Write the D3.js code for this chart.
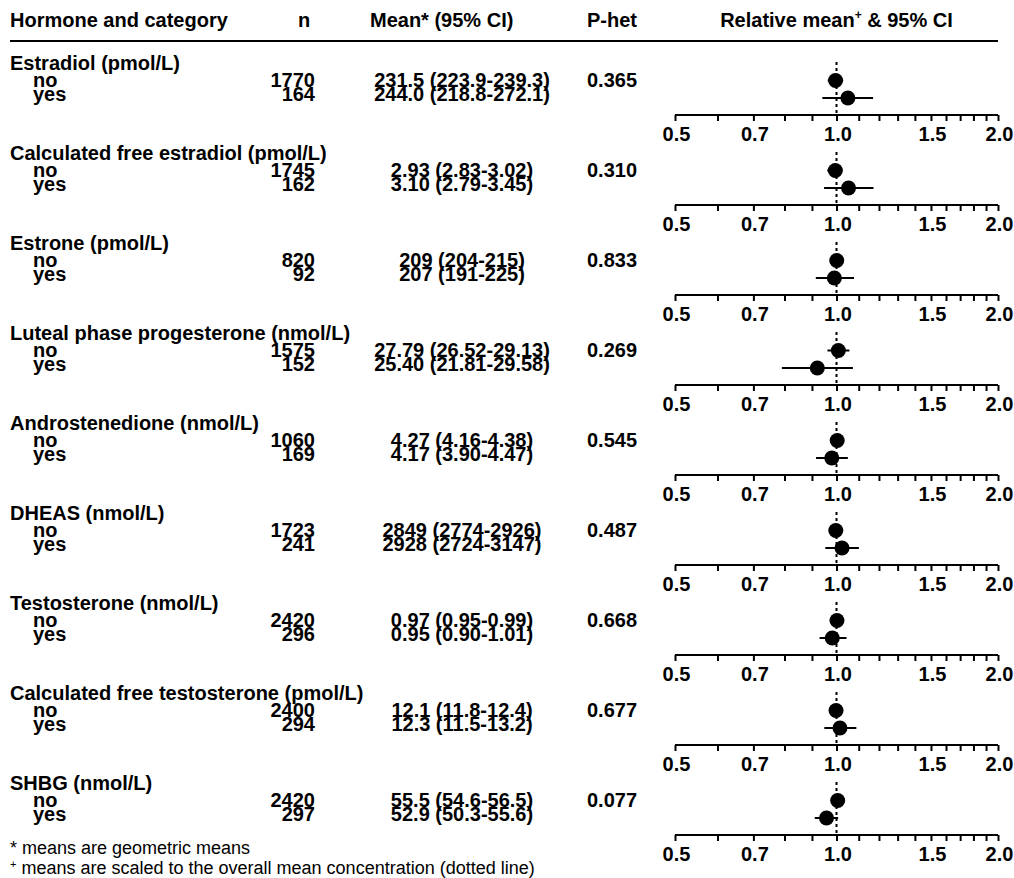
<!DOCTYPE html>
<html>
<head>
<meta charset="utf-8">
<script src="https://cdn.jsdelivr.net/npm/d3@7"></script>
<style>
  html, body { margin: 0; padding: 0; background: #fff; }
  svg { display: block; }
  text { font-family: "Liberation Sans", Arial, Helvetica, sans-serif; fill: #000; }
</style>
</head>
<body>
<svg id="chart" width="1014" height="878"></svg>
<script>
// ---------------- data ----------------
const hormones = [
  "Estradiol (pmol/L)",
  "Calculated free estradiol (pmol/L)",
  "Estrone (pmol/L)",
  "Luteal phase progesterone (nmol/L)",
  "Androstenedione (nmol/L)",
  "DHEAS (nmol/L)",
  "Testosterone (nmol/L)",
  "Calculated free testosterone (pmol/L)",
  "SHBG (nmol/L)"
];
const categories = ["no", "yes"];
const nNo  = [1770, 1745, 820, 1575, 1060, 1723, 2420, 2400, 2420];
const nYes = [164, 162, 92, 152, 169, 241, 296, 294, 297];
const meanNo  = ["231.5", "2.93", "209", "27.79", "4.27", "2849", "0.97", "12.1", "55.5"];
const ciNo    = ["(223.9-239.3)", "(2.83-3.02)", "(204-215)", "(26.52-29.13)", "(4.16-4.38)", "(2774-2926)", "(0.95-0.99)", "(11.8-12.4)", "(54.6-56.5)"];
const meanYes = ["244.0", "3.10", "207", "25.40", "4.17", "2928", "0.95", "12.3", "52.9"];
const ciYes   = ["(218.8-272.1)", "(2.79-3.45)", "(191-225)", "(21.81-29.58)", "(3.90-4.47)", "(2724-3147)", "(0.90-1.01)", "(11.5-13.2)", "(50.3-55.6)"];
const pHet = ["0.365", "0.310", "0.833", "0.269", "0.545", "0.487", "0.668", "0.677", "0.077"];
// relative means (scaled to overall mean) with 95% CI
const relNo    = [0.996, 0.995, 1.001, 1.008, 1.003, 0.997, 1.002, 0.998, 1.005];
const relNoLo  = [0.963, 0.961, 0.977, 0.962, 0.977, 0.970, 0.982, 0.973, 0.989];
const relNoHi  = [1.029, 1.026, 1.030, 1.057, 1.029, 1.024, 1.023, 1.023, 1.023];
const relYes   = [1.050, 1.053, 0.991, 0.921, 0.980, 1.024, 0.982, 1.015, 0.958];
const relYesLo = [0.941, 0.948, 0.915, 0.791, 0.916, 0.953, 0.930, 0.949, 0.911];
const relYesHi = [1.170, 1.172, 1.078, 1.073, 1.050, 1.101, 1.044, 1.089, 1.007];
const tickValues = [0.5,0.6,0.7,0.8,0.9,1.0,1.1,1.2,1.3,1.4,1.5,1.6,1.7,1.8,1.9,2.0];
const tickLabels = [0.5, 0.7, 1.0, 1.5, 2.0];
const headers = ["Hormone and category", "n", "Mean* (95% CI)", "P-het", "Relative mean", "& 95% CI"];
const footnotes = ["means are geometric means", "means are scaled to the overall mean concentration (dotted line)"];

// ---------------- layout ----------------
const FS = 20;
const panelStep = 90;
const top0 = 62;
const svg = d3.select("#chart");
const x = d3.scaleLog().domain([0.5, 2.0]).range([675, 998]);

const colX = { label: 10, indent: 33, n: 315, meanC: 462, p: 587 };

// header
const hg = svg.append("g").attr("font-weight", "bold").attr("font-size", FS);
hg.append("text").attr("x", colX.label).attr("y", 27).text(headers[0]);
hg.append("text").attr("x", 304).attr("y", 27).attr("text-anchor", "middle").text(headers[1]);
hg.append("text").attr("x", 370).attr("y", 27).text(headers[2]);
hg.append("text").attr("x", colX.p).attr("y", 27).text(headers[3]);
const rel = hg.append("text").attr("x", x(1)).attr("y", 27).attr("text-anchor", "middle");
rel.append("tspan").text(headers[4]);
rel.append("tspan").attr("font-size", 12).attr("dy", -8).text("+");
rel.append("tspan").attr("dy", 8).text(" " + headers[5]);
svg.append("line").attr("x1", 10).attr("x2", 998).attr("y1", 41).attr("y2", 41)
  .attr("stroke", "#000").attr("stroke-width", 2);

// panels
hormones.forEach((h, i) => {
  const y0 = top0 + panelStep * i;
  const g = svg.append("g").attr("font-weight", "bold").attr("font-size", FS);
  g.append("text").attr("x", colX.label).attr("y", y0 + 8).text(h);
  const rows = [
    { cat: categories[0], n: nNo[i], m: meanNo[i], ci: ciNo[i], ty: y0 + 24.5, dy: y0 + 18.5, v: relNo[i], lo: relNoLo[i], hi: relNoHi[i] },
    { cat: categories[1], n: nYes[i], m: meanYes[i], ci: ciYes[i], ty: y0 + 39, dy: y0 + 36, v: relYes[i], lo: relYesLo[i], hi: relYesHi[i] }
  ];
  rows.forEach(r => {
    g.append("text").attr("x", colX.indent).attr("y", r.ty).text(r.cat);
    g.append("text").attr("x", colX.n).attr("y", r.ty).attr("text-anchor", "end").text(r.n);
    g.append("text").attr("x", colX.meanC).attr("y", r.ty).attr("text-anchor", "middle").text(r.m + " " + r.ci);
  });
  g.append("text").attr("x", colX.p).attr("y", y0 + 25).text(pHet[i]);

  // reference dotted line
  svg.append("line").attr("x1", x(1)).attr("x2", x(1)).attr("y1", y0).attr("y2", y0 + 53)
    .attr("stroke", "#000").attr("stroke-width", 2).attr("stroke-dasharray", "3,3");

  // CI lines and points
  rows.forEach(r => {
    svg.append("line").attr("x1", x(r.lo)).attr("x2", x(r.hi)).attr("y1", r.dy).attr("y2", r.dy)
      .attr("stroke", "#000").attr("stroke-width", 2);
    svg.append("circle").attr("cx", x(r.v)).attr("cy", r.dy).attr("r", 7.5).attr("fill", "#000");
  });

  // axis
  const axis = d3.axisBottom(x).tickValues(tickValues).tickSize(6).tickPadding(6)
    .tickFormat(d => tickLabels.some(t => Math.abs(t - d) < 1e-9) ? d.toFixed(1) : "");
  const ag = svg.append("g").attr("transform", `translate(0,${y0 + 53})`).call(axis);
  ag.select(".domain").attr("stroke", "#000").attr("stroke-width", 2).attr("d", `M${x(0.5)},0H${x(2.0)}`);
  ag.selectAll(".tick line").attr("stroke", "#000").attr("stroke-width", 2);
  ag.selectAll(".tick text").attr("font-size", FS).attr("font-weight", "bold")
    .attr("font-family", "'Liberation Sans', Arial, sans-serif").attr("fill", "#000")
    .attr("dx", 1);
});

// footnotes
const fg = svg.append("g").attr("font-size", 18);
fg.append("text").attr("x", 10).attr("y", 854).text("* " + footnotes[0]);
const f2 = fg.append("text").attr("x", 10).attr("y", 874);
f2.append("tspan").attr("font-size", 11).attr("dy", -6).text("+");
f2.append("tspan").attr("dy", 6).text(" " + footnotes[1]);
</script>
</body>
</html>
